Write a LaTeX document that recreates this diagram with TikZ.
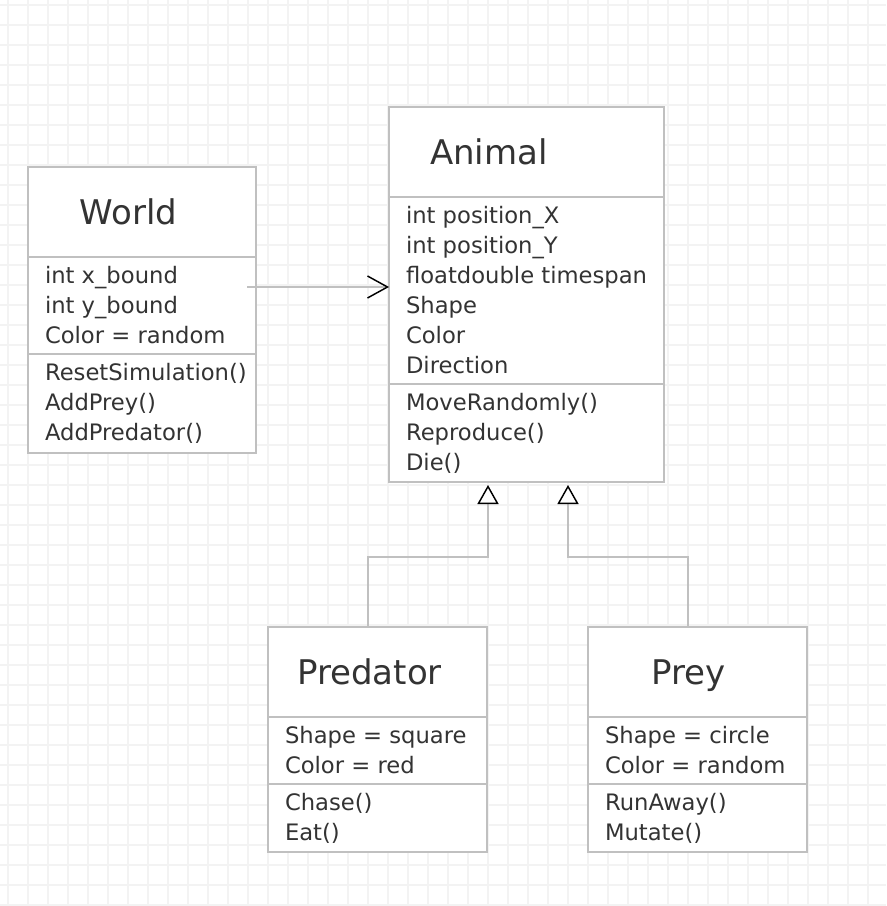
\documentclass[tikz,border=0pt]{standalone}
\usepackage{fontspec}
\setmainfont{DejaVu Sans}
\usetikzlibrary{arrows.meta}

\definecolor{gridc}{RGB}{243,243,243}
\definecolor{boxline}{RGB}{192,192,192}
\definecolor{textc}{RGB}{51,51,51}

\begin{document}
\begin{tikzpicture}[x=0.75pt, y=-0.75pt,
  comp/.style={draw=boxline, line width=1.1pt, fill=white, anchor=north west,
    outer sep=0pt, inner xsep=12.75pt, inner ysep=0pt, align=flush left,
    text=textc, font=\fontsize{17}{22.5}\selectfont},
  classname/.style={anchor=base, text=textc, font=\fontsize{25.5}{30}\selectfont},
  assoc/.style={draw=boxline, line width=1.1pt,
    -{Straight Barb[length=15pt, width=16.5pt, black, line width=1.1pt]}},
  inherit/.style={draw=boxline, line width=1.1pt,
    -{Triangle[length=14.25pt, width=15.75pt, black, fill=white, line width=1.1pt]}}]

  \def\px{0.75pt}

  % Fundo quadriculado
  \useasboundingbox (0,0) rectangle (886,906);
  \fill[white] (0,0) rectangle (886,906);
  \foreach \x in {8,28,...,886}
    \draw[gridc, line width=1pt] (\x,0) -- (\x,906);
  \foreach \y in {5,25,...,906}
    \draw[gridc, line width=1pt] (0,\y) -- (886,\y);

  % World
  \node[comp, minimum height=90*\px, text width=194*\px] (world-t) at (28,167) {};
  \node[comp, minimum height=97*\px, text width=194*\px] (world-a) at (world-t.south west)
    {int x\_bound\\int y\_bound\\Color = random};
  \node[comp, minimum height=99*\px, text width=194*\px] (world-m) at (world-a.south west)
    {\mbox{ResetSimulation()}\\AddPrey()\\AddPredator()};
  \node[classname] (world-name) at (128.5,224) {World};

  % Animal
  \node[comp, minimum height=90*\px, text width=241*\px] (animal-t) at (389,107) {};
  \node[comp, minimum height=187*\px, text width=241*\px] (animal-a) at (animal-t.south west)
    {int position\_X\\int position\_Y\\\mbox{floatdouble timespan}\\Shape\\Color\\Direction};
  \node[comp, minimum height=98*\px, text width=241*\px] (animal-m) at (animal-a.south west)
    {MoveRandomly()\\Reproduce()\\Die()};
  \node[classname] (animal-name) at (489,164) {Animal};

  % Predator
  \node[comp, minimum height=90*\px, text width=185*\px] (pred-t) at (268,627) {};
  \node[comp, minimum height=67*\px, text width=185*\px] (pred-a) at (pred-t.south west)
    {\mbox{Shape = square}\\Color = red};
  \node[comp, minimum height=68*\px, text width=185*\px] (pred-m) at (pred-a.south west)
    {Chase()\\Eat()};
  \node[classname] (pred-name) at (369.5,684) {Predator};

  % Prey
  \node[comp, minimum height=90*\px, text width=185*\px] (prey-t) at (588,627) {};
  \node[comp, minimum height=67*\px, text width=185*\px] (prey-a) at (prey-t.south west)
    {Shape = circle\\\mbox{Color = random}};
  \node[comp, minimum height=68*\px, text width=185*\px] (prey-m) at (prey-a.south west)
    {RunAway()\\Mutate()};
  \node[classname] (prey-name) at (688.5,684) {Prey};

  % Associação World -> Animal
  \draw[assoc] ([shift={(-9,-18.5)}]world-a.east) -- ([shift={(0,-18.5)}]world-a.east -| animal-a.west);

  % Herança
  \draw[inherit] ([shift={(-9.5,0)}]pred-t.north) -- ++(0,-70) -| ([shift={(-38.5,3)}]animal-m.south);
  \draw[inherit] ([shift={(-9.5,0)}]prey-t.north) -- ++(0,-70) -| ([shift={(41.5,3)}]animal-m.south);

\end{tikzpicture}
\end{document}
